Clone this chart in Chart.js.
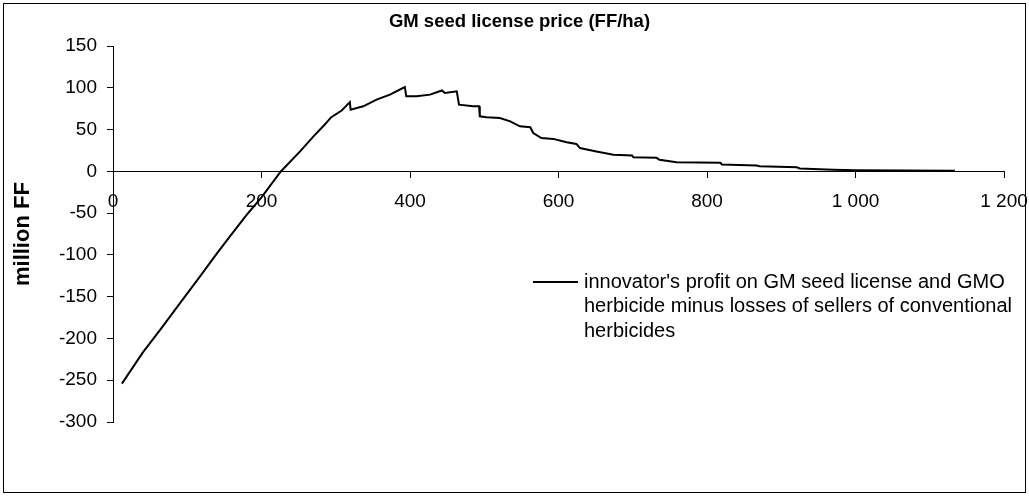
<!DOCTYPE html>
<html>
<head>
<meta charset="utf-8">
<script src="https://cdn.jsdelivr.net/npm/chart.js@4/dist/chart.umd.min.js"></script>
<style>
  html, body { margin: 0; padding: 0; background: #fff; }
</style>
</head>
<body>
<canvas id="myChart" width="1029" height="496"></canvas>
<script>
const priceFFha = [12, 40, 65, 90, 117, 140, 158, 180, 200, 226, 252, 270, 285, 294, 308, 319, 320, 337, 355, 373, 393, 395, 409, 427, 443, 447, 463, 466, 485, 493, 494, 503, 521, 535, 548, 562, 566, 577, 593, 611, 624, 629, 651, 674, 699, 701, 732, 736, 759, 818, 820, 867, 871, 921, 925, 970, 1000, 1134];
const profitMFF = [-254, -217, -188, -158, -126, -98, -77, -52, -31, 0, 24, 42, 56, 65, 73, 83, 74, 78, 86, 92, 101, 90, 90, 92, 97, 94, 96, 80, 78, 78, 66, 65, 64, 60, 54, 53, 46, 40, 39, 35, 33, 28, 24, 20, 19, 17, 16.3, 14, 11, 10.3, 8.3, 7.1, 6.3, 5, 3.6, 2, 1.5, 1];
const legendLines = [
    "innovator's profit on GM seed license and GMO",
    'herbicide minus losses of sellers of conventional',
    'herbicides',
];
const chartTitle = 'GM seed license price (FF/ha)';
const yTitle = 'million FF';

const fontFamily = '"Liberation Sans", Arial, sans-serif';

// frame + multi-line legend (Chart.js legend can't wrap)
const extras = {
    id: 'extras',
    afterDraw(chart) {
        const ctx = chart.ctx;
        ctx.save();
        ctx.strokeStyle = '#000';
        ctx.lineWidth = 1;
        ctx.strokeRect(3.5, 3.5, 1022, 489);

        ctx.lineWidth = 2;
        ctx.beginPath();
        ctx.moveTo(533, 282);
        ctx.lineTo(578, 282);
        ctx.stroke();

        ctx.fillStyle = '#000';
        ctx.font = '20px ' + fontFamily;
        ctx.textBaseline = 'middle';
        legendLines.forEach((t, i) => ctx.fillText(t, 584, 282 + i * 24.5));
        ctx.restore();
    }
};

const data = {
    datasets: [{
        data: priceFFha.map((x, i) => ({ x: x, y: profitMFF[i] })),
        borderColor: '#000',
        borderWidth: 2,
        pointRadius: 0,
        tension: 0,
    }]
};

const options = {
    responsive: false,
    animation: false,
    devicePixelRatio: 1,
    layout: {
        padding: { left: 10, right: 0, top: 0, bottom: 74 }
    },
    scales: {
        x: {
            type: 'linear',
            position: { y: 0 },
            min: 0,
            max: 1200,
            // axis sits on y=0, so it takes no room; right gap fixed here
            afterFit: (s) => { s.height = 0; s.paddingLeft = 0; s.paddingRight = 25; },
            ticks: {
                stepSize: 200,
                color: '#000',
                padding: 13,
                maxRotation: 0,
                font: { family: fontFamily, size: 19 },
                callback: (v) => v >= 1000 ? Math.floor(v / 1000) + ' ' + String(v % 1000).padStart(3, '0') : String(v),
            },
            grid: {
                drawOnChartArea: false,
                tickLength: 6,
                color: '#000',
            },
            border: { color: '#000' },
        },
        y: {
            min: -300,
            max: 150,
            afterFit: (s) => { s.width = 103; },
            ticks: {
                stepSize: 50,
                color: '#000',
                padding: 10,
                font: { family: fontFamily, size: 19 },
            },
            grid: {
                drawOnChartArea: false,
                tickLength: 6,
                color: '#000',
            },
            border: { color: '#000' },
            title: {
                display: true,
                text: yTitle,
                color: '#000',
                font: { family: fontFamily, size: 22, weight: 'bold' },
                padding: { top: 0, bottom: 0 },
            },
        },
    },
    plugins: {
        legend: { display: false },
        tooltip: { enabled: false },
        title: {
            display: true,
            text: chartTitle,
            color: '#000',
            font: { family: fontFamily, size: 18.5, weight: 'bold' },
            padding: { top: 11, bottom: 13 },
        },
    },
};

const myChart = new Chart(
    document.getElementById('myChart'),
    { type: 'line', data: data, options: options, plugins: [extras] }
);
</script>
</body>
</html>
